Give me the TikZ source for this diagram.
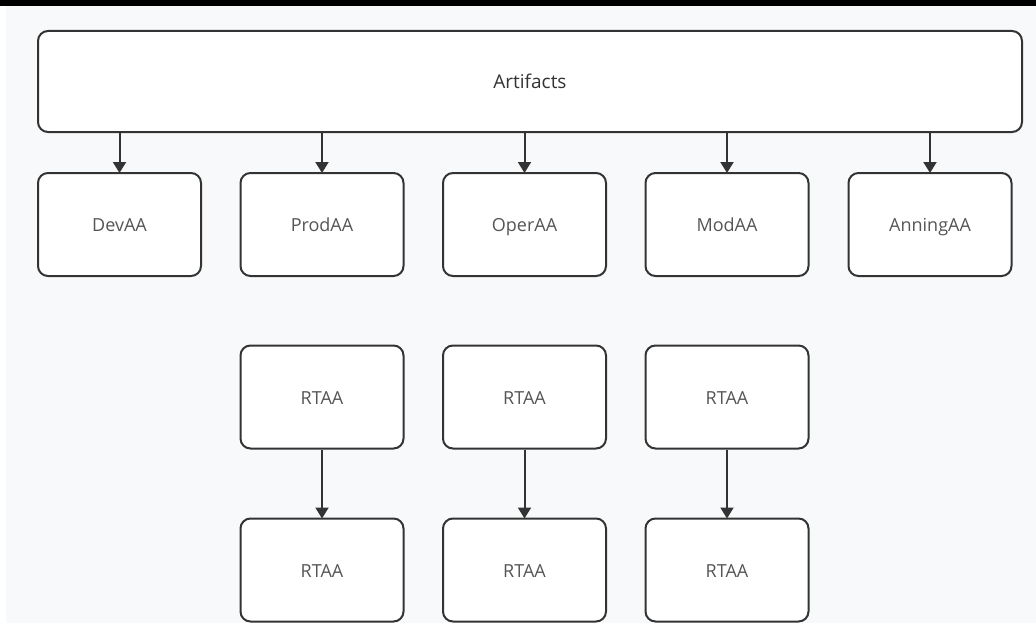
\documentclass[tikz,border=0pt]{standalone}
\usepackage{fontspec}
\setmainfont{Open Sans}
\usetikzlibrary{arrows.meta}
\definecolor{pagebg}{HTML}{F8F9FA}
\definecolor{edge}{HTML}{333333}
\definecolor{labelgray}{HTML}{555555}
\definecolor{titlegray}{HTML}{333333}
\tikzset{
  box/.style={draw=edge, line width=2pt, fill=white, rounded corners=10pt,
    minimum width=163pt, minimum height=103pt, inner sep=0pt,
    text=labelgray, font=\fontsize{18}{22}\selectfont,
    text height=14pt, text depth=0pt},
  topbox/.style={box, minimum width=984pt, minimum height=101pt,
    text=titlegray, font=\fontsize{19}{23}\selectfont,
    text height=14.5pt},
  link/.style={draw=edge, line width=2pt,
    -{Triangle[width=13pt,length=11pt]}, shorten >=-1pt}
}
\begin{document}
\begin{tikzpicture}[x=1pt,y=-1pt]
  % canvas
  \useasboundingbox (0,0) rectangle (1036,626);
  \fill[white] (0,0) rectangle (1036,626);
  \fill[pagebg] (6,6) rectangle (1036,623);
  \fill[black] (0,0) rectangle (1036,6);

  % top level
  \node[topbox] (art) at (530,81.5) {Artifacts};

  % second row
  \node[box] (dev)  at (119.5,224.5) {DevAA};
  \node[box] (prod) at (322,224.5)   {ProdAA};
  \node[box] (oper) at (524.5,224.5) {OperAA};
  \node[box] (mod)  at (727,224.5)   {ModAA};
  \node[box] (ann)  at (930,224.5)   {AnningAA};

  % RTAA pairs
  \node[box] (rta1) at (322,397)   {RTAA};
  \node[box] (rta2) at (524.5,397) {RTAA};
  \node[box] (rta3) at (727,397)   {RTAA};
  \node[box] (rtb1) at (322,570)   {RTAA};
  \node[box] (rtb2) at (524.5,570) {RTAA};
  \node[box] (rtb3) at (727,570)   {RTAA};

  % connectors
  \foreach \n in {dev,prod,oper,mod,ann}
    \draw[link] (art.south -| \n.north) -- (\n.north);
  \draw[link] (rta1) -- (rtb1);
  \draw[link] (rta2) -- (rtb2);
  \draw[link] (rta3) -- (rtb3);
\end{tikzpicture}
\end{document}
